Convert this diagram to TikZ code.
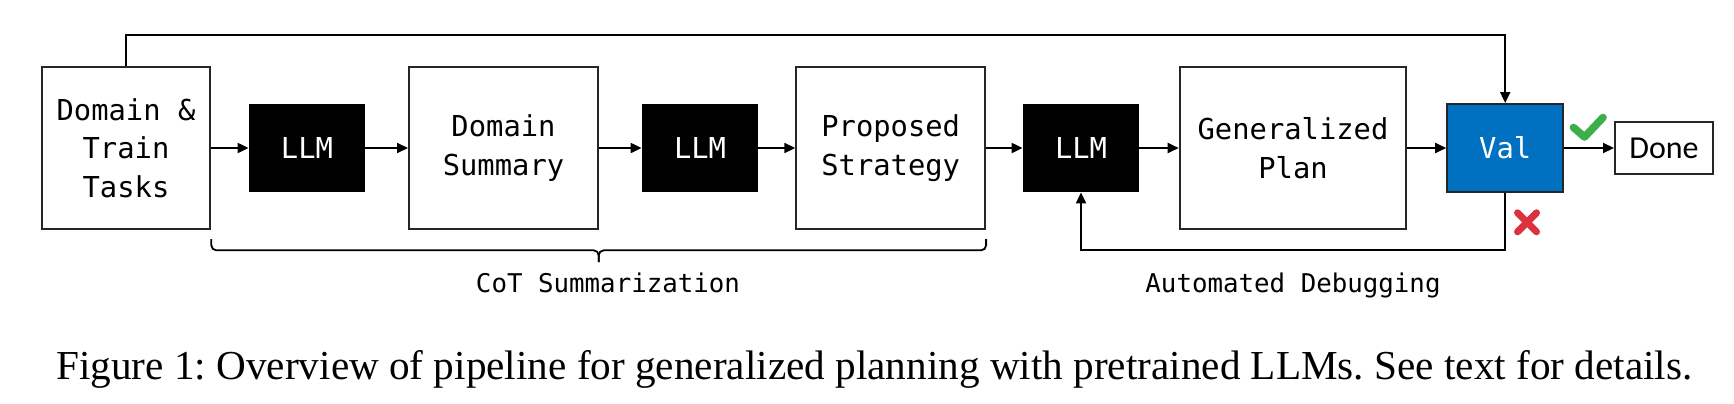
\documentclass[tikz,border=0pt]{standalone}
\usepackage{fontspec}
\setmainfont{Liberation Serif}
\setmonofont{DejaVu Sans Mono}
\newfontfamily\donefont{Carlito}
\usepackage{tikz}
\usetikzlibrary{calc,arrows.meta}
\frenchspacing
\definecolor{edge}{HTML}{262626}
\definecolor{valblue}{HTML}{0070C0}
\definecolor{okgreen}{HTML}{3CAF4B}
\definecolor{badred}{HTML}{DC3240}
\tikzset{
  box/.style={draw=edge, line width=1pt, minimum height=81pt, inner sep=0pt, align=center,
    font=\ttfamily\fontsize{14.4}{19.3}\selectfont},
  llmbox/.style={fill=black, text=white, minimum width=58pt, minimum height=44pt, inner sep=0pt,
    font=\ttfamily\fontsize{14.4}{19.3}\selectfont},
  valbox/.style={llmbox, fill=valblue, draw=edge, line width=1pt},
  donebox/.style={draw=edge, line width=0.8pt, minimum width=49.2pt, minimum height=26pt, inner sep=0pt,
    font=\donefont\fontsize{16}{19}\selectfont},
  arr/.style={draw=black, line width=1pt, -{Triangle[length=5.5pt,width=5pt]}},
  lbl/.style={anchor=base, font=\ttfamily\fontsize{12.9}{15}\selectfont},
  brc/.style={draw=black, line width=0.9pt, rounded corners=2.5pt},
  okmark/.style={draw=okgreen, line width=3.8pt, line cap=round, line join=round},
  nomark/.style={draw=badred, line width=3.5pt, line cap=round},
  figcap/.style={anchor=base, font=\fontsize{20.6}{24}\selectfont}
}

\begin{document}
\begin{tikzpicture}[x=0.5pt, y=-0.5pt]
  \useasboundingbox (0,0) rectangle (1734,403);
  \coordinate (topY) at (0,34.7);
  \coordinate (fbY) at (0,250);

  % pipeline
  \node[box, minimum width=84.3pt] (task) at (126,148) {Domain \&\\Train\\Tasks};
  \node[llmbox] (llmA) at (307,148) {LLM};
  \node[box, minimum width=94.5pt] (summ) at (503.5,148) {Domain\\Summary};
  \node[llmbox] (llmB) at (700,148) {LLM};
  \node[box, minimum width=94.4pt] (strat) at (890.7,148) {Proposed\\Strategy};
  \node[llmbox] (llmC) at (1081,148) {LLM};
  \node[box, minimum width=113.3pt] (plan) at (1293,148) {Generalized\\Plan};
  \node[valbox] (val) at (1505.2,148) {Val};
  \node[donebox] (done) at (1664,148) {Done};

  \draw[arr] (task) -- (llmA);
  \draw[arr] (llmA) -- (summ);
  \draw[arr] (summ) -- (llmB);
  \draw[arr] (llmB) -- (strat);
  \draw[arr] (strat) -- (llmC);
  \draw[arr] (llmC) -- (plan);
  \draw[arr] (plan) -- (val);
  \draw[arr] (val) -- (done);

  % loops
  \draw[arr] (task.north) -- (task.north |- topY) -| (val.north);
  \draw[arr] (val.south) -- (val.south |- fbY) -| (llmC.south);

  % brace
  \coordinate (brL) at ([yshift=-4.5pt]task.south east);
  \coordinate (brR) at ([yshift=-4.5pt]strat.south east);
  \coordinate (brM) at ($(brL)!0.5!(brR)+(0,23)$);
  \draw[brc] (brL) -- ++(0,11.3) -| (brM);
  \draw[brc] (brR) -- ++(0,11.3) -| (brM);
  \node[lbl] (cot) at (608,292) {CoT Summarization};
  \node[lbl] (dbg) at (1293,292) {Automated Debugging};

  \draw[okmark] (1573.5,127.5) -- (1584.5,137) -- (1603,117.5);
  \draw[nomark] (1517.5,212.8) -- (1536.5,231.8) (1536.5,212.8) -- (1517.5,231.8);

  \node[figcap] (fig) at (874.4,379) {Figure 1: Overview of pipeline for generalized planning with pretrained LLMs. See text for details.};
\end{tikzpicture}
\end{document}
